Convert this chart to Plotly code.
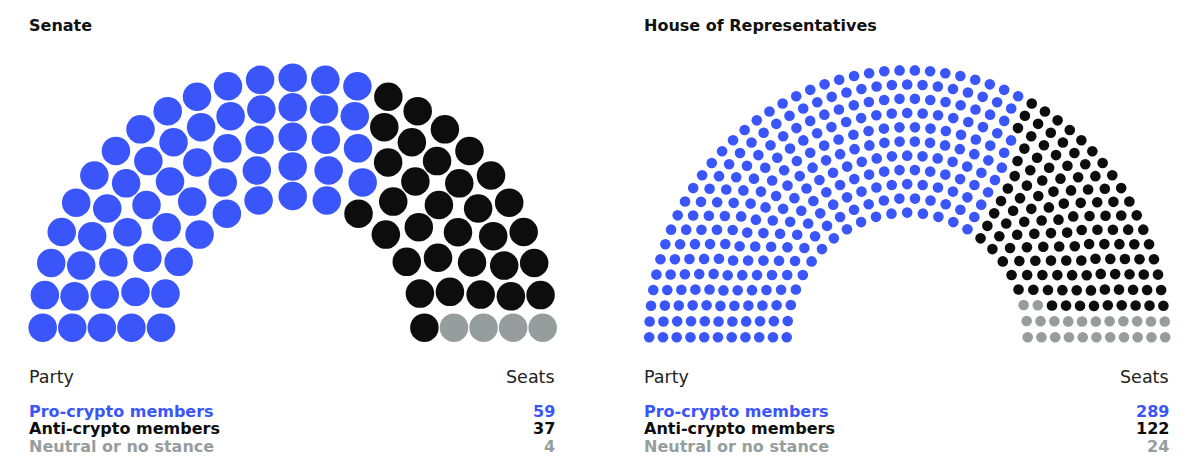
import numpy as np
import plotly.graph_objects as go

# legend data
parties = ["Pro-crypto members", "Anti-crypto members", "Neutral or no stance"]
colors = ["#3a56fa", "#0d0d0d", "#969d9d"]
senate_seats = [59, 37, 4]
house_seats = [289, 122, 24]

# seats drawn in each ring, inner ring first
senate_ring_sizes = [13, 15, 19, 23, 25]
senate_ring_pro = [8, 10, 12, 14, 15]
senate_ring_neutral = [0, 1, 1, 1, 1]

house_ring_sizes = [25, 28, 31, 34, 37, 40, 42, 45, 48, 51, 54]
house_ring_pro = [17, 19, 21, 23, 25, 27, 28, 30, 31, 33, 35]
house_ring_neutral = [3, 3, 2, 2, 2, 2, 2, 2, 2, 2, 2]


def hemicycle(sizes, pro, neutral, cx, cy, r_in, r_out, ystretch=1.0):
    """Seat positions (pixel space) grouped by party, seats run left to right in each ring"""
    pts = [([], []), ([], []), ([], [])]
    rings = len(sizes)
    for i, n in enumerate(sizes):
        r = r_in + (r_out - r_in) * i / (rings - 1)
        for k in range(n):
            theta = np.pi - k * np.pi / (n - 1)
            if k < pro[i]:
                p = 0
            elif k >= n - neutral[i]:
                p = 2
            else:
                p = 1
            pts[p][0].append(cx + r * np.cos(theta))
            pts[p][1].append(cy - r * np.sin(theta) * ystretch)
    return pts


senate_pts = hemicycle(senate_ring_sizes, senate_ring_pro, senate_ring_neutral,
                       292.7, 327.7, 131.7, 250.0)
house_pts = hemicycle(house_ring_sizes, house_ring_pro, house_ring_neutral,
                      907.2, 337.3, 120.5, 258.0, ystretch=1.035)

fig = go.Figure()
for pts, size in [(senate_pts, 28.5), (house_pts, 10.6)]:
    for p, (xs, ys) in enumerate(pts):
        fig.add_trace(go.Scatter(
            x=xs, y=ys, mode="markers",
            marker=dict(color=colors[p], size=size, line=dict(width=0)),
            name=parties[p], hoverinfo="skip", showlegend=False,
        ))

FONT = "DejaVu Sans"


def label(x, y, text, color="#111111", size=16, bold=False, anchor="left"):
    if bold:
        text = "<b>" + text + "</b>"
    fig.add_annotation(x=x, y=y, xref="x", yref="y", text=text, showarrow=False,
                       xanchor=anchor, yanchor="middle", borderpad=0,
                       font=dict(family=FONT, size=size, color=color))


blocks = [("Senate", senate_seats, 28, 556), ("House of Representatives", house_seats, 643, 1170)]
for title, seats, left, right in blocks:
    label(left, 25, title, color="#111111", size=16, bold=True)
    label(left, 377, "Party", color="#222222", size=17.5)
    label(right, 377, "Seats", color="#222222", size=17.5, anchor="right")
    for p in range(3):
        y = 411 + p * 17.5
        label(left, y, parties[p], color=colors[p], size=16, bold=True)
        label(right, y, str(seats[p]), color=colors[p], size=16, bold=True, anchor="right")

# the page body has an 8px margin, so shift the pixel-space ranges by 8
fig.update_xaxes(range=[8, 1208], visible=False, fixedrange=True)
fig.update_yaxes(range=[483, 8], visible=False, fixedrange=True)
fig.update_layout(
    width=1200, height=475,
    margin={"r": 0, "t": 0, "l": 0, "b": 0},
    plot_bgcolor="white", paper_bgcolor="white",
)
fig.write_html("out.html")
